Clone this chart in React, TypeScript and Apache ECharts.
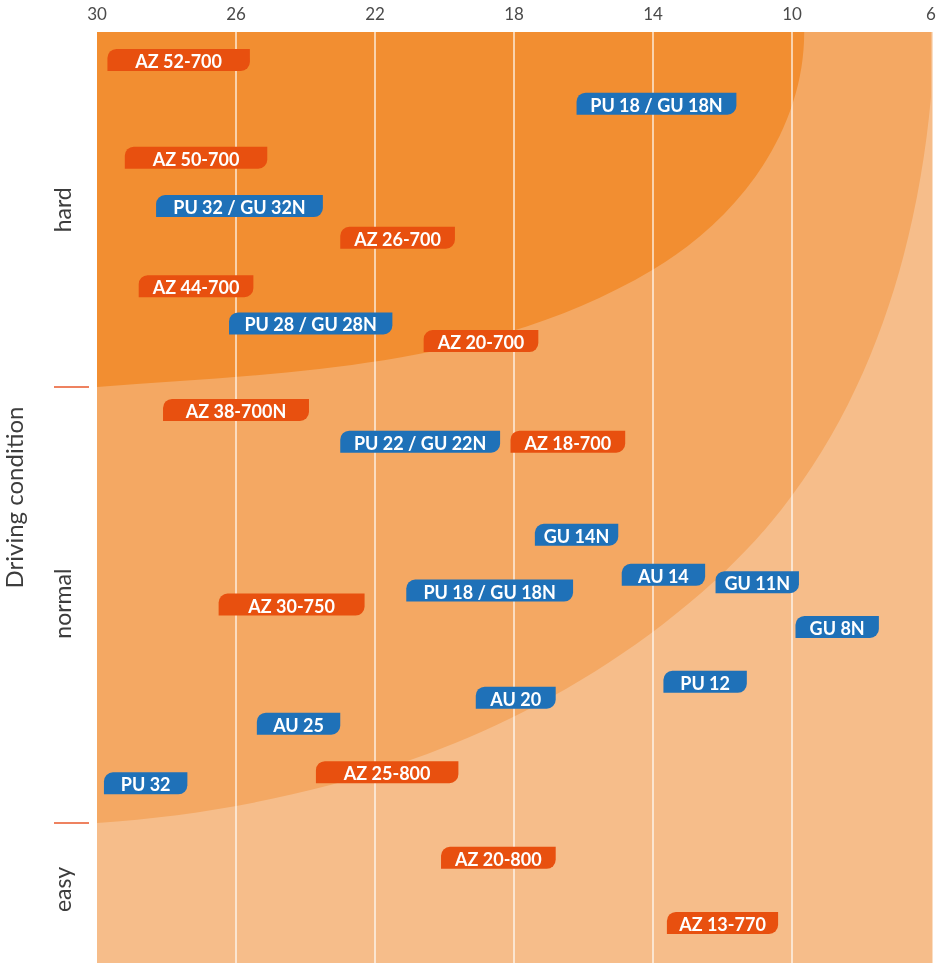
import React, { useEffect, useRef } from "react";
import * as echarts from "echarts";

// Tick labels of the top axis (scale reversed)
const xTicks = [30, 26, 22, 18, 14, 10, 6];

// Driving-condition bands on the y scale (0 = easiest, 100 = hardest)
const conditionNames = ["easy", "normal", "hard"];
const conditionLabelPos = [7.9, 38.6, 80.9];
const conditionBounds = [15.04, 61.87];

// Product tags: name, x range (from, to) and level of difficulty
const tagNames = [
  "AZ 52-700", "PU 18 / GU 18N", "AZ 50-700", "PU 32 / GU 32N", "AZ 26-700",
  "AZ 44-700", "PU 28 / GU 28N", "AZ 20-700", "AZ 38-700N", "PU 22 / GU 22N",
  "AZ 18-700", "GU 14N", "AU 14", "GU 11N", "PU 18 / GU 18N",
  "AZ 30-750", "GU 8N", "PU 12", "AU 20", "AU 25",
  "PU 32", "AZ 25-800", "AZ 20-800", "AZ 13-770",
];
const tagFrom = [
  29.7, 16.2, 29.2, 28.3, 23.0,
  28.8, 26.2, 20.6, 28.1, 23.0,
  18.1, 17.4, 14.9, 12.2, 21.1,
  26.5, 9.9, 13.7, 19.1, 25.4,
  29.8, 23.7, 20.1, 13.6,
];
const tagTo = [
  25.6, 11.6, 25.1, 23.5, 19.7,
  25.5, 21.5, 17.3, 23.9, 18.4,
  14.8, 15.0, 12.5, 9.8, 16.3,
  22.3, 7.5, 11.3, 16.8, 23.0,
  27.4, 19.6, 16.8, 10.4,
];
const tagLevel = [
  97.0, 92.3, 86.5, 81.3, 77.9,
  72.7, 68.7, 66.8, 59.4, 56.0,
  56.0, 46.0, 41.7, 40.9, 40.0,
  38.5, 36.1, 30.2, 28.5, 25.7,
  19.3, 20.5, 11.3, 4.3,
];

const COLOR_AZ = "#e8500f";
const COLOR_BLUE = "#1f71b8";
const ZONE_EASY = "#f6bd8a";
const ZONE_NORMAL = "#f4a863";
const ZONE_HARD = "#f28e31";

export default function App() {
  const ref = useRef<HTMLDivElement>(null);

  useEffect(() => {
    if (!ref.current) return;
    const chart = echarts.init(ref.current, null, { renderer: "svg" });

    const tagData = tagNames.map((_, i) => [tagFrom[i], tagTo[i], tagLevel[i]]);

    const option = {
      animation: false,
      textStyle: { fontFamily: "Lato" },
      grid: { left: 97, right: 13, top: 32, bottom: 0, containLabel: false, outerBoundsMode: "none" },
      xAxis: {
        type: "value",
        position: "top",
        inverse: true,
        min: xTicks[xTicks.length - 1],
        max: xTicks[0],
        interval: 4,
        z: 3,
        axisLine: { show: false },
        axisTick: { show: false },
        splitLine: {
          show: true,
          showMinLine: false,
          showMaxLine: false,
          lineStyle: { color: "rgba(255,255,255,0.8)", width: 1.5 },
        },
        axisLabel: { margin: 10, color: "#4a4a4a", fontSize: 17, fontFamily: "Lato" },
      },
      yAxis: {
        type: "value",
        min: 0,
        max: 100,
        position: "left",
        offset: 8,
        axisLine: { show: false },
        splitLine: { show: false },
        axisTick: {
          show: true,
          length: 35,
          customValues: conditionBounds,
          lineStyle: { color: "#e9592b", width: 1.5 },
        },
        axisLabel: {
          customValues: conditionLabelPos,
          rotate: 90,
          margin: 16,
          color: "#3d3d3d",
          fontSize: 23,
          fontFamily: "Lato",
          formatter: (v: number) => {
            const idx = conditionLabelPos.indexOf(v);
            return idx >= 0 ? conditionNames[idx] : "";
          },
        },
        name: "Driving condition",
        nameLocation: "middle",
        nameGap: 64,
        nameTextStyle: { fontSize: 24, color: "#3d3d3d", fontFamily: "Lato" },
      },
      series: [
        {
          type: "custom",
          z: 1,
          silent: true,
          data: [[0, 0]],
          renderItem: (_params: any, api: any) => {
            const c = (x: number, y: number) => {
              const p = api.coord([x, y]);
              return p[0].toFixed(1) + " " + p[1].toFixed(1);
            };
            const tl = api.coord([30, 100]);
            const br = api.coord([6, 0]);
            const normalPath =
              "M" + c(30, 100) + " L" + c(6, 100) + " L" + c(6, 93.02) +
              " C" + c(6.46, 74.11) + " " + c(8.18, 55.32) + " " + c(11.89, 42.21) +
              " C" + c(16.78, 24.92) + " " + c(23.3, 16.76) + " " + c(30, 15.04) + " Z";
            const hardPath =
              "M" + c(30, 100) + " L" + c(9.65, 100) +
              " C" + c(9.65, 89.26) + " " + c(11.55, 79.91) + " " + c(14.02, 74.44) +
              " C" + c(18.76, 63.91) + " " + c(24.48, 63.37) + " " + c(30, 61.87) + " Z";
            return {
              type: "group",
              children: [
                {
                  type: "rect",
                  shape: { x: tl[0], y: tl[1], width: br[0] - tl[0] + 1.5, height: br[1] - tl[1] },
                  style: { fill: ZONE_EASY },
                },
                { type: "path", shape: { pathData: normalPath }, style: { fill: ZONE_NORMAL } },
                { type: "path", shape: { pathData: hardPath }, style: { fill: ZONE_HARD } },
              ],
            };
          },
        },
        {
          type: "custom",
          z: 4,
          data: tagData,
          renderItem: (params: any, api: any) => {
            const i = params.dataIndex;
            const a = api.coord([api.value(0), api.value(2)]);
            const b = api.coord([api.value(1), api.value(2)]);
            const x0 = Math.min(a[0], b[0]);
            const w = Math.abs(b[0] - a[0]);
            const h = 22;
            const y0 = a[1] - h / 2;
            const name = tagNames[i];
            const color = name.startsWith("AZ") ? COLOR_AZ : COLOR_BLUE;
            return {
              type: "group",
              children: [
                {
                  type: "rect",
                  shape: { x: x0, y: y0, width: w, height: h, r: [9, 0, 9, 0] },
                  style: { fill: color },
                },
                {
                  type: "text",
                  style: {
                    text: name,
                    x: x0 + w / 2,
                    y: a[1] + 1,
                    align: "center",
                    verticalAlign: "middle",
                    fill: "#ffffff",
                    font: "bold 18px Lato",
                  },
                },
              ],
            };
          },
        },
      ],
    };

    chart.setOption(option as any);
    return () => chart.dispose();
  }, []);

  return (
    <div
      ref={ref}
      style={{ position: "fixed", left: 0, top: 0, width: 944, height: 963 }}
    />
  );
}
